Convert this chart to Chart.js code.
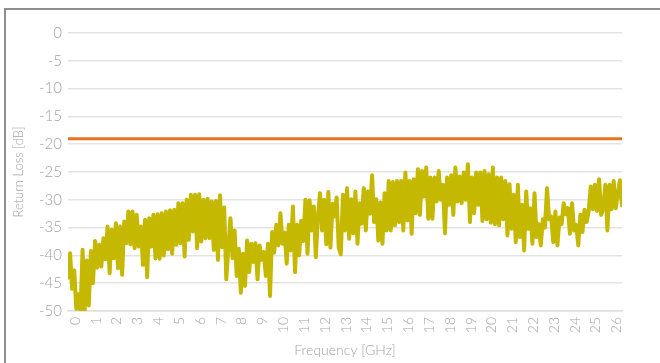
<!DOCTYPE html>
<html lang="en">

<head>
    <meta charset="UTF-8">
    <title>Return Loss</title>
    <script src="https://cdn.jsdelivr.net/npm/chart.js"></script>
    <style>
        html, body {
            margin: 0;
            padding: 0;
            background: #fff;
            overflow: hidden;
        }

        .wrap {
            position: relative;
            width: 660px;
            height: 363px;
        }

        .frame {
            position: absolute;
            left: 4px;
            top: 8px;
            right: -4px;
            bottom: -4px;
            border-top: 2px solid #8f8f8f;
            border-left: 2px solid #8f8f8f;
        }

        canvas {
            position: absolute;
            left: 0;
            top: 0;
        }
    </style>
</head>

<body>
    <div class="wrap">
        <div class="frame"></div>
        <canvas id="returnLossChart" width="660" height="363"></canvas>
    </div>

    <script>
        // Sweep: first sample frequency and spacing (GHz)
        const freqStartGHz = -0.35;
        const freqStepGHz = 0.1;

        // Measured return loss (dB), one value per sample
        const returnLossDb = [
            -44, -39.6, -46, -42.7, -49.6, -47, -50, -39, -50, -40.9,
            -49, -39.2, -45, -37.4, -42.2, -38.1, -42, -36.9, -40.7, -34.8,
            -43.2, -35.4, -40.5, -34.2, -42.3, -34.8, -43.5, -33.9, -37.8, -32.1,
            -38, -32.1, -38.7, -32.7, -38.4, -34.8, -41.7, -33.6, -43.9, -33.3,
            -38.4, -32.7, -40.5, -32.6, -40.6, -32.4, -40, -32.1, -38.9, -31.9,
            -39.7, -31.8, -38.1, -30.6, -37.8, -30.6, -40.2, -30, -37.2, -29.1,
            -35.7, -29.1, -38.7, -29, -37.5, -30, -36.9, -29.8, -36.9, -30.3,
            -39, -30.2, -40.8, -29.2, -38.5, -31.4, -44.3,
            -38.5, -33.3, -40.5, -35.5, -43.7, -38.8, -46.7, -39.7, -45.5, -37.3,
            -43, -37.9, -41.2, -37.8, -44.3, -38.2, -40.8, -39.4, -43.7, -37.9,
            -47.3, -35.8, -39.5, -34.5, -38.2, -32.4, -37.9, -35.9, -41.5, -34.5,
            -39.1, -31.2, -43, -34.5, -40, -33.8, -37.4, -30, -39.7, -30.1,
            -35.5, -31.2, -40.3, -33, -28.8, -35.5, -30, -38, -28.6, -38.6,
            -30.7, -33, -29.6, -38.6,
            -39.8, -29.1, -35.5, -27.9, -37, -29.9, -36, -28.5, -37.9, -30.6,
            -34.3, -27.9, -35.5, -28.5, -32.5, -25.6, -34, -29.9, -37.3, -30.5,
            -37.9, -28.8, -35.5, -26.6, -35.5, -26.8, -34.6, -26.6, -34, -26.6,
            -35.5, -25.1, -33.7, -26.6, -36.1, -26.3, -32.4, -24.5, -32.7, -24.8,
            -29.4, -24.2, -33.4, -26, -33.4, -26, -30.3, -24.8, -30, -27.3,
            -36, -26, -30.9, -25.6, -32.7, -24.2, -30.3, -25.8, -30.6, -25.1,
            -30, -23.6, -34, -26, -32.4, -25.1, -30.9,
            -25.1, -33.8, -24.8, -33.5, -25.4, -34.1, -24.2, -34.4, -26, -34.6,
            -26, -33.5, -26.6, -36.4, -27.2, -35.2, -29.1, -37.6, -27.3, -36.7,
            -30.9, -39.1, -28.5, -35.2, -31.5, -37.9, -28.8, -36.7, -34.4, -38.2,
            -33.5, -35, -27.9, -33.5, -33, -37.6, -32.1, -38.2, -33.2, -34.4,
            -30.6, -32.6, -31.5, -36.1, -30.6, -35.5, -34.5, -38.2, -32.7, -35.8,
            -31.8, -34, -32, -27.6, -31.7, -27.3, -32, -26.3, -32.7, -31.5,
            -27.3, -35.5, -27.3, -31.7, -26.6, -31.5, -29, -26.5, -31
        ];

        // Specification limit (dB)
        const limitDb = -19;

        // Axis ranges and ticks
        const freqMinGHz = -0.35;
        const freqMaxGHz = 26.25;
        const freqTicks = [0, 1, 2, 3, 4, 5, 6, 7, 8, 9, 10, 11, 12, 13, 14, 15, 16, 17, 18, 19, 20, 21, 22, 23, 24, 25, 26];
        const lossMin = -50;
        const lossMax = 0;
        const lossStep = 5;

        const measured = returnLossDb.map((v, i) => ({
            x: +(freqStartGHz + i * freqStepGHz).toFixed(2),
            y: v
        }));
        const limitLine = [
            { x: freqMinGHz, y: limitDb },
            { x: freqMaxGHz, y: limitDb }
        ];

        const labelFont = { family: 'Lato', size: 14, weight: '300' };
        const labelColor = '#a3a3a3';

        const ctx = document.getElementById('returnLossChart').getContext('2d');
        new Chart(ctx, {
            type: 'line',
            data: {
                datasets: [
                    {
                        label: 'Limit',
                        data: limitLine,
                        borderColor: '#e8731c',
                        borderWidth: 3,
                        pointRadius: 0,
                        fill: false
                    },
                    {
                        label: 'Return Loss',
                        data: measured,
                        borderColor: '#c4b800',
                        borderWidth: 4,
                        borderJoinStyle: 'round',
                        borderCapStyle: 'round',
                        pointRadius: 0,
                        tension: 0,
                        fill: false
                    }
                ]
            },
            options: {
                responsive: false,
                animation: false,
                layout: {
                    padding: { top: 33, right: 38, left: 0, bottom: 0 }
                },
                plugins: {
                    legend: { display: false },
                    tooltip: { enabled: false }
                },
                scales: {
                    x: {
                        type: 'linear',
                        min: freqMinGHz,
                        max: freqMaxGHz,
                        afterBuildTicks: axis => {
                            axis.ticks = freqTicks.map(v => ({ value: v }));
                        },
                        afterFit: axis => {
                            axis.height = 52;
                        },
                        grid: { display: false, drawTicks: false },
                        border: { display: true, color: '#e0e0e0', width: 1.5 },
                        ticks: {
                            autoSkip: false,
                            minRotation: 90,
                            maxRotation: 90,
                            padding: 6,
                            color: labelColor,
                            font: labelFont,
                            callback: v => String(v)
                        },
                        title: {
                            display: true,
                            text: 'Frequency [GHz]',
                            color: labelColor,
                            font: labelFont,
                            padding: { top: 0, bottom: 4 }
                        }
                    },
                    y: {
                        min: lossMin,
                        max: lossMax,
                        afterFit: axis => {
                            axis.width = 68;
                        },
                        grid: {
                            color: '#e3e3e3',
                            lineWidth: 1.5,
                            drawTicks: false
                        },
                        border: { display: false },
                        ticks: {
                            stepSize: lossStep,
                            padding: 6,
                            color: labelColor,
                            font: { family: 'Lato', size: 15, weight: '300' }
                        },
                        title: {
                            display: true,
                            text: 'Return Loss [dB]',
                            color: labelColor,
                            font: { family: 'Lato', size: 13, weight: '300' },
                            padding: { top: 11, bottom: 0 }
                        }
                    }
                }
            }
        });
    </script>
</body>

</html>
